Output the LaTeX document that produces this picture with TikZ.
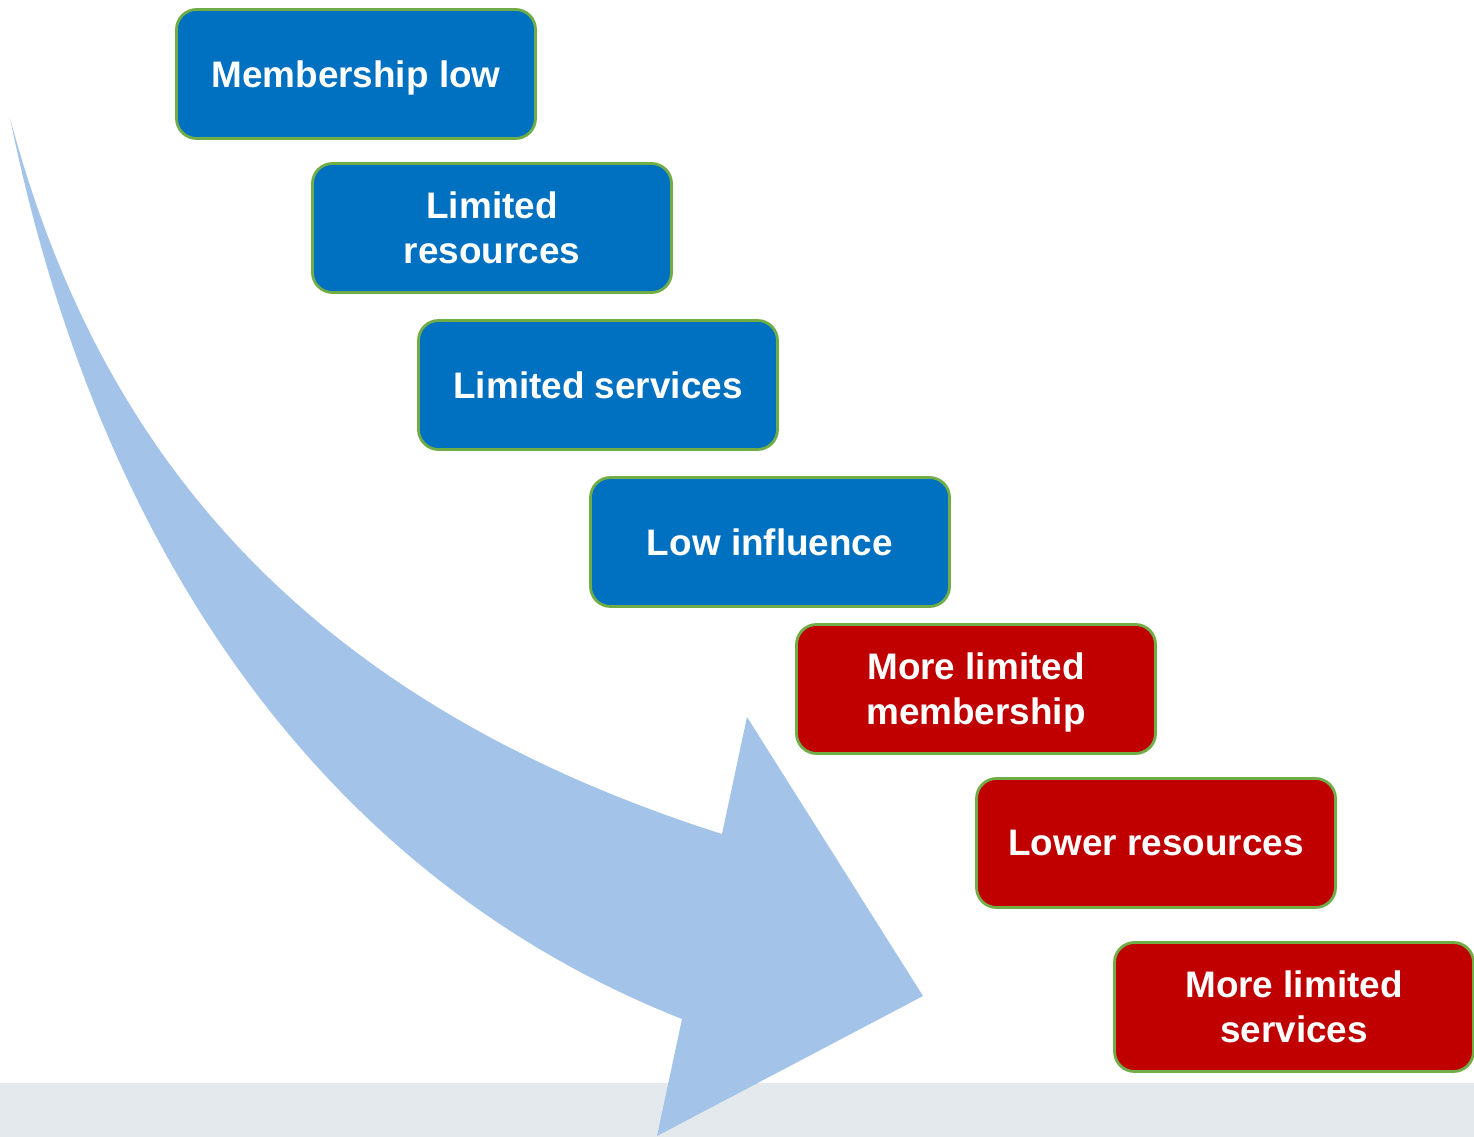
\documentclass[tikz,border=0pt]{standalone}
\usepackage{fontspec}
\setmainfont{Liberation Sans}
\usepackage{tikz}
\definecolor{boxblue}{HTML}{0070C0}
\definecolor{boxred}{HTML}{C00000}
\definecolor{boxgreen}{HTML}{70AD47}
\definecolor{arrowblue}{HTML}{A4C3E8}
\definecolor{bandgray}{HTML}{E4E9ED}

\begin{document}
\begin{tikzpicture}
  [x=0.1mm,y=-0.1mm,every node/.style={draw=boxgreen,line width=0.8pt,
   rounded corners=2mm,text=white,align=center,inner sep=0pt,
   minimum width=35.9mm,minimum height=12.9mm,text depth=0pt,
   font=\bfseries\fontsize{10.5}{12.8}\selectfont}]

  \tikzstyle{cause} = [fill=boxblue]
  \tikzstyle{effect} = [fill=boxred]

  \useasboundingbox (0,0) rectangle (1474,1137);
  \fill[bandgray] (0,1083) rectangle (1474,1137);

  % the big curved arrow
  \fill[arrowblue] (10,118) .. controls (100,560) and (330,880) .. (682,1019)
        -- (657,1136) -- (923,996) -- (747,717) -- (722,834)
        .. controls (272,691) and (90,418) .. (10,118) -- cycle;

  \node[cause]  (1) at (356,74)   {Membership low};
  \node[cause]  (2) at (492,228)  {Limited\\resources};
  \node[cause]  (3) at (598,385)  {Limited services};
  \node[cause]  (4) at (770,542)  {Low influence};
  \node[effect] (5) at (976,689)  {More limited\\membership};
  \node[effect] (6) at (1156,843) {Lower resources};
  \node[effect] (7) at (1294,1007) {More limited\\services};
\end{tikzpicture}
\end{document}
